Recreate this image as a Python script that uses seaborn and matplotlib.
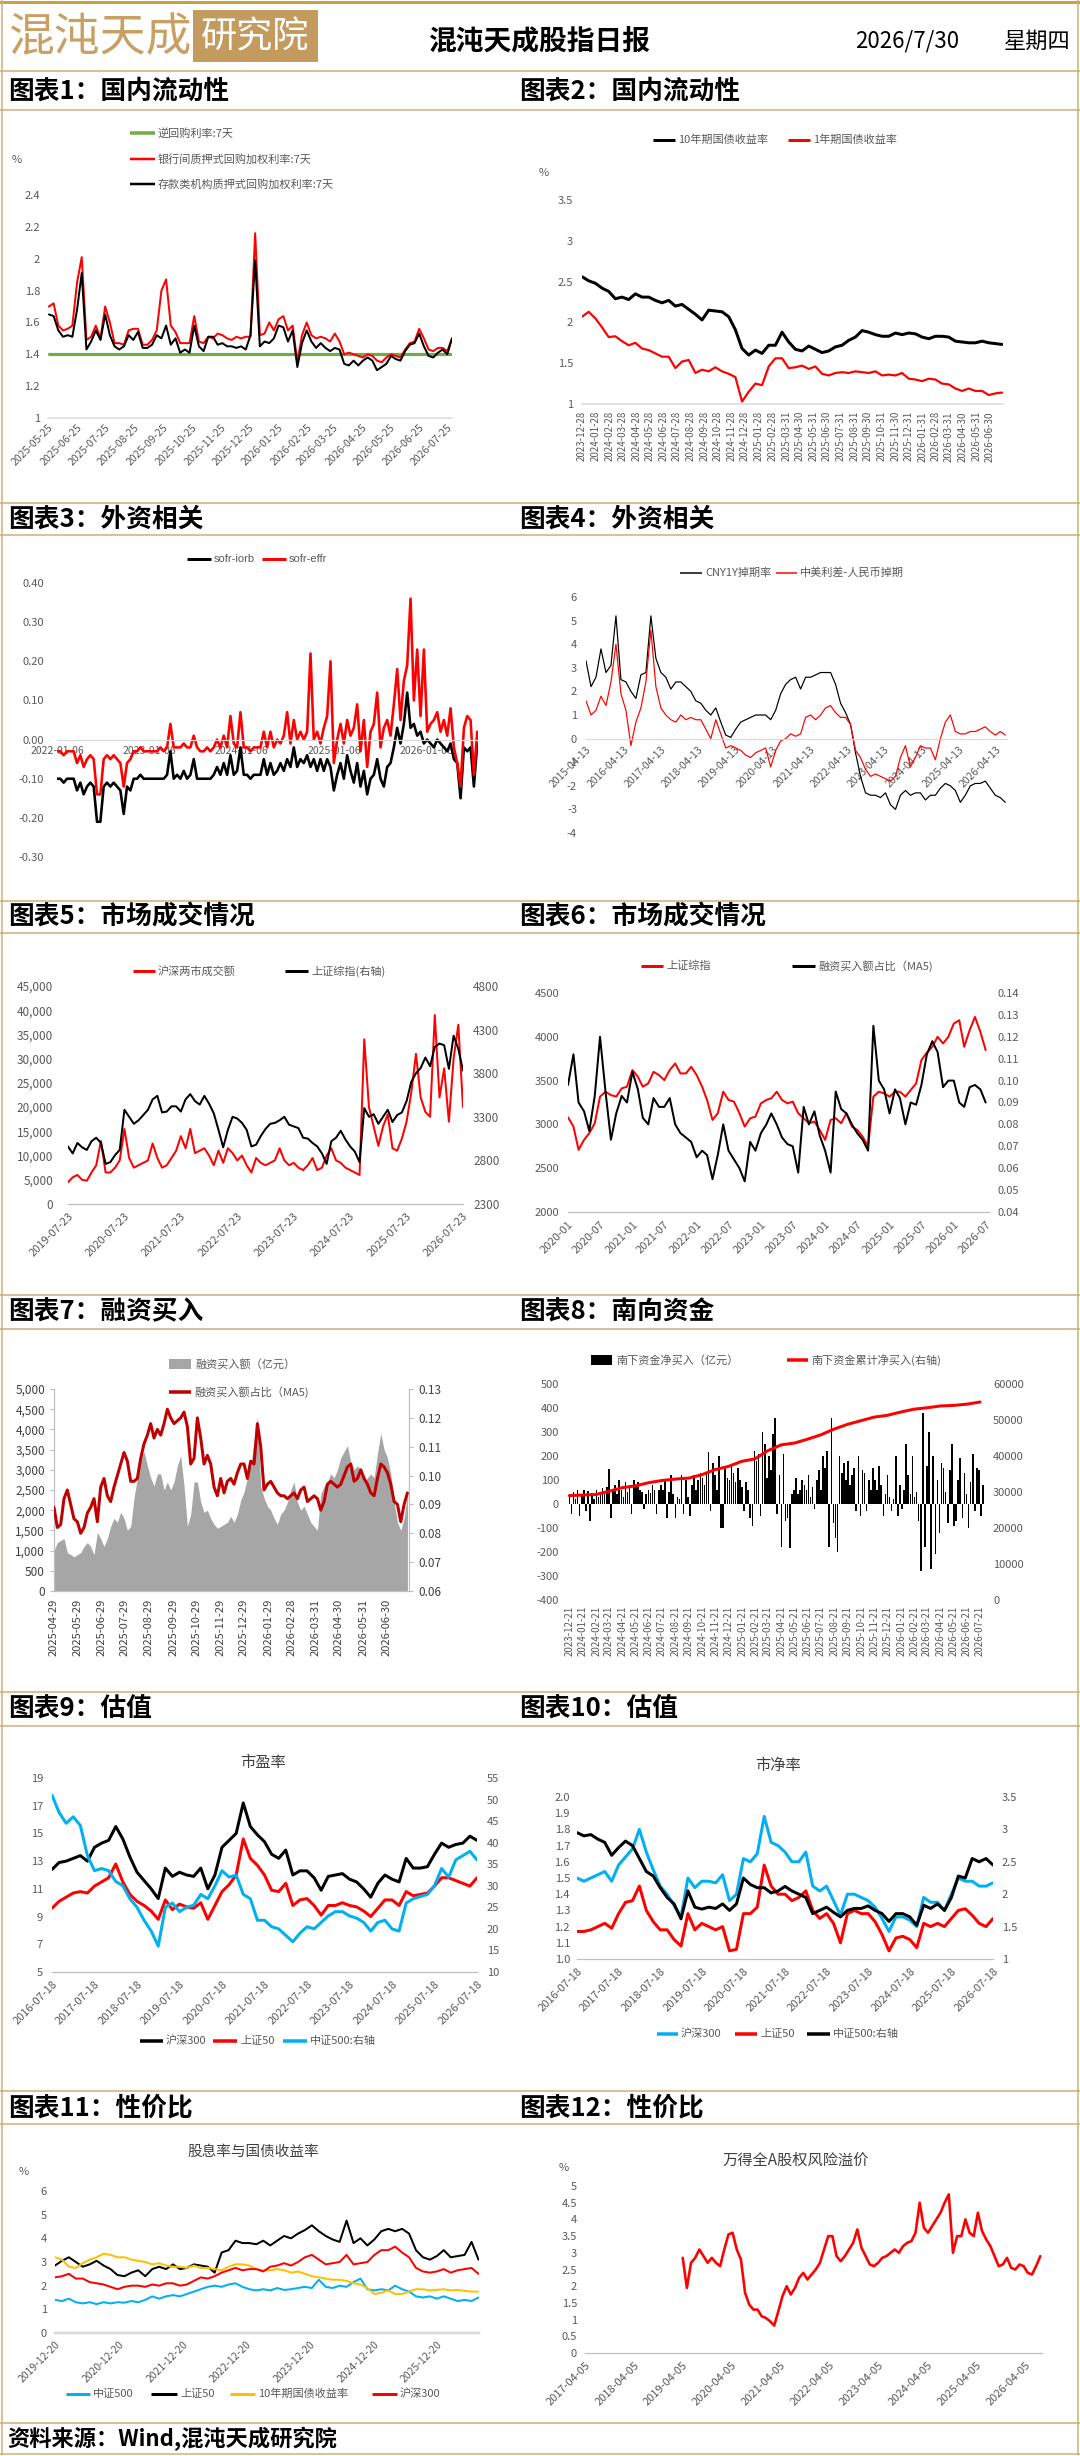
import numpy as np
import pandas as pd
import matplotlib
matplotlib.use('Agg')
import matplotlib.pyplot as plt
import matplotlib.dates as mdates
from matplotlib.patches import Rectangle
import seaborn as sns

# ---------------------------------------------------------------- data
# Chart 1: domestic liquidity (5-day spacing, 2025-05-26 .. 2026-07-30)
C1_REPO_DATES = ['2025-05-26', '2026-07-30']
C1_REPO7D = [1.40, 1.40]
C1_IB7D = [1.70,1.72,1.58,1.55,1.56,1.58,1.85,2.01,1.49,1.51,
           1.58,1.50,1.70,1.60,1.47,1.47,1.46,1.55,1.56,1.56,
           1.46,1.46,1.49,1.55,1.80,1.87,1.58,1.54,1.47,1.47,
           1.47,1.64,1.48,1.47,1.51,1.50,1.53,1.52,1.50,1.49,
           1.51,1.50,1.51,1.51,2.16,1.52,1.53,1.60,1.55,1.62,
           1.64,1.55,1.58,1.35,1.52,1.60,1.52,1.50,1.51,1.50,
           1.48,1.53,1.48,1.40,1.41,1.40,1.39,1.38,1.40,1.39,
           1.36,1.35,1.38,1.40,1.39,1.38,1.43,1.47,1.48,1.56,
           1.50,1.43,1.42,1.44,1.44,1.42,1.50]
C1_DR7D = [1.65,1.64,1.55,1.51,1.52,1.51,1.68,1.91,1.43,1.48,
           1.55,1.49,1.65,1.52,1.45,1.43,1.45,1.52,1.49,1.54,
           1.44,1.44,1.46,1.52,1.50,1.58,1.46,1.50,1.41,1.43,
           1.41,1.58,1.45,1.42,1.51,1.51,1.46,1.47,1.45,1.45,
           1.44,1.45,1.43,1.52,1.99,1.45,1.48,1.47,1.50,1.58,
           1.57,1.48,1.55,1.32,1.47,1.55,1.48,1.44,1.47,1.44,
           1.42,1.44,1.43,1.34,1.33,1.36,1.33,1.36,1.38,1.36,
           1.30,1.32,1.34,1.39,1.37,1.36,1.42,1.46,1.47,1.53,
           1.45,1.39,1.38,1.41,1.43,1.40,1.50]
C1_XTICKS = ['2025-05-25','2025-06-25','2025-07-25','2025-08-25','2025-09-25','2025-10-25',
             '2025-11-25','2025-12-25','2026-01-25','2026-02-25','2026-03-25','2026-04-25',
             '2026-05-25','2026-06-25','2026-07-25']
C1_YTICKS = [1, 1.2, 1.4, 1.6, 1.8, 2, 2.2, 2.4]

# Chart 2: government bond yields
C2_Y10 = [2.56,2.51,2.48,2.42,2.38,2.29,2.31,2.28,2.35,2.31,
          2.31,2.27,2.24,2.27,2.20,2.22,2.16,2.10,2.03,2.15,
          2.14,2.13,2.07,1.91,1.68,1.60,1.66,1.62,1.72,1.72,
          1.88,1.76,1.67,1.65,1.71,1.67,1.63,1.65,1.70,1.72,
          1.78,1.82,1.90,1.88,1.85,1.83,1.83,1.87,1.85,1.87,
          1.86,1.82,1.80,1.83,1.83,1.82,1.77,1.76,1.75,1.75,
          1.77,1.75,1.74,1.73]
C2_Y1 = [2.07,2.13,2.05,1.94,1.82,1.83,1.77,1.72,1.75,1.68,
         1.66,1.62,1.58,1.58,1.44,1.52,1.54,1.38,1.42,1.40,
         1.45,1.40,1.37,1.33,1.03,1.15,1.25,1.23,1.46,1.56,
         1.56,1.44,1.45,1.47,1.43,1.46,1.37,1.35,1.38,1.39,
         1.38,1.40,1.39,1.38,1.40,1.35,1.36,1.35,1.38,1.31,
         1.30,1.28,1.31,1.30,1.25,1.24,1.19,1.16,1.19,1.16,
         1.16,1.11,1.13,1.14]
C2_XTICKS = ['2023-12-28','2024-01-28','2024-02-28','2024-03-28','2024-04-28','2024-05-28',
             '2024-06-28','2024-07-28','2024-08-28','2024-09-28','2024-10-28','2024-11-28',
             '2024-12-28','2025-01-28','2025-02-28','2025-03-31','2025-04-30','2025-05-31',
             '2025-06-30','2025-07-31','2025-08-31','2025-09-30','2025-10-31','2025-11-30',
             '2025-12-31','2026-01-31','2026-02-28','2026-03-31','2026-04-30','2026-05-31',
             '2026-06-30']
C2_YTICKS = [1, 1.5, 2, 2.5, 3, 3.5]

# Chart 3: SOFR spreads
C3_IORB = [-0.10,-0.10,-0.11,-0.10,-0.10,-0.10,-0.13,-0.11,-0.14,-0.12,
           -0.11,-0.12,-0.21,-0.21,-0.12,-0.11,-0.12,-0.11,-0.12,-0.13,
           -0.19,-0.12,-0.13,-0.10,-0.10,-0.09,-0.10,-0.10,-0.10,-0.10,
           -0.10,-0.10,-0.10,-0.09,-0.03,-0.10,-0.09,-0.10,-0.08,-0.10,
           -0.09,-0.05,-0.10,-0.10,-0.10,-0.10,-0.10,-0.09,-0.07,-0.09,
           -0.06,-0.09,-0.04,-0.09,-0.08,-0.02,-0.09,-0.09,-0.10,-0.09,
           -0.09,-0.09,-0.05,-0.09,-0.06,-0.09,-0.08,-0.06,-0.08,-0.05,
           -0.07,-0.02,-0.07,-0.05,-0.06,-0.04,-0.07,-0.05,-0.08,-0.05,
           -0.08,-0.05,-0.07,-0.13,-0.09,-0.06,-0.10,-0.04,-0.08,-0.11,
           -0.06,-0.12,-0.08,-0.14,-0.10,-0.09,-0.05,-0.10,-0.12,-0.07,
           -0.06,-0.02,0.03,-0.01,0.04,0.12,0.03,0.04,0.01,0.02,
           -0.01,0.00,-0.01,-0.02,0.00,-0.01,-0.02,-0.03,-0.01,-0.05,
           -0.06,-0.15,-0.02,-0.03,-0.02,-0.12,-0.01]
C3_EFFR = [-0.03,-0.03,-0.04,-0.03,-0.03,-0.03,-0.06,-0.04,-0.07,-0.05,
           -0.04,-0.05,-0.14,-0.14,-0.05,-0.04,-0.05,-0.04,-0.05,-0.06,
           -0.12,-0.06,-0.05,-0.03,-0.03,-0.02,-0.03,-0.03,-0.03,-0.03,
           -0.03,-0.02,-0.03,-0.02,0.04,-0.02,-0.02,-0.02,-0.01,-0.02,
           -0.02,0.01,-0.02,-0.03,-0.03,-0.02,-0.03,-0.02,0.00,-0.02,
           0.01,-0.02,0.06,-0.01,-0.02,0.07,-0.02,-0.02,-0.03,-0.02,
           -0.02,-0.02,0.02,-0.02,0.02,-0.02,0.00,-0.01,0.01,0.07,
           -0.01,0.05,0.00,0.02,0.00,0.02,0.22,0.00,0.02,-0.01,
           0.03,0.06,0.20,-0.06,0.00,0.04,-0.01,0.05,0.01,0.03,
           0.09,-0.03,0.05,-0.07,0.02,0.04,0.12,-0.02,0.03,0.05,
           0.01,0.09,0.18,0.05,0.15,0.19,0.36,0.10,0.23,0.06,
           0.23,0.02,0.04,0.05,0.07,0.02,0.05,0.01,0.08,-0.02,
           -0.06,-0.12,0.03,0.06,0.05,-0.09,0.02]
C3_XTICKS = ['2022-01-06','2023-01-06','2024-01-06','2025-01-06','2026-01-06']
C3_YTICKS = [-0.3, -0.2, -0.1, 0.0, 0.1, 0.2, 0.3, 0.4]

# Chart 4: CNY swap
C4_SWAP = [3.3,2.2,2.6,3.8,2.8,3.1,5.2,2.5,2.4,2.0,
           1.7,2.7,2.8,5.2,3.4,2.8,2.6,2.1,2.4,2.4,
           2.2,2.0,1.6,1.5,1.2,1.0,1.3,0.7,0.15,0.05,
           0.4,0.7,0.8,0.9,1.0,1.0,1.0,0.8,1.2,1.9,
           2.3,2.5,2.6,2.1,2.6,2.6,2.7,2.8,2.8,2.8,
           2.3,1.5,1.1,0.6,-0.6,-1.6,-2.3,-2.4,-2.4,-2.5,
           -2.3,-2.8,-3.0,-2.4,-2.2,-2.4,-2.3,-2.3,-2.6,-2.4,
           -2.4,-2.1,-1.9,-2.0,-2.2,-2.7,-2.4,-2.0,-1.9,-1.9,
           -1.8,-2.1,-2.4,-2.5,-2.7]
C4_SPREAD = [1.6,1.0,1.2,1.8,1.4,2.4,4.0,1.9,1.2,-0.3,
             0.7,1.3,2.4,4.6,2.2,1.3,1.0,0.8,0.7,1.0,
             0.8,0.9,0.8,0.8,0.4,0.0,0.8,0.2,-0.4,-0.3,
             -0.4,-0.5,-0.7,-0.8,-0.6,-0.5,-0.4,-1.2,-0.5,-0.1,
             0.0,0.2,0.1,0.2,0.9,1.0,0.8,1.0,1.3,1.4,
             1.1,0.9,0.9,0.6,-0.5,-0.8,-1.3,-1.6,-1.5,-1.6,
             -1.7,-1.8,-1.6,-0.8,-0.3,-1.2,-0.8,-0.3,-0.4,-0.4,
             -0.9,0.0,0.7,1.0,0.3,0.2,0.2,0.3,0.3,0.4,
             0.5,0.3,0.15,0.3,0.15]
C4_XTICKS = ['2015-04-13','2016-04-13','2017-04-13','2018-04-13','2019-04-13','2020-04-13',
             '2021-04-13','2022-04-13','2023-04-13','2024-04-13','2025-04-13','2026-04-13']
C4_YTICKS = [-4, -3, -2, -1, 0, 1, 2, 3, 4, 5, 6]

# Chart 5: turnover and SSE composite
C5_TURNOVER = [4500,5500,6000,5000,4800,6500,8000,13000,6500,6500,
               7500,9000,15500,9500,7500,8000,8500,9000,12500,9500,
               7500,8000,9500,11000,14000,11500,15500,10500,11000,11500,
               10000,8000,11000,8500,11500,10500,9000,10000,8000,6500,
               9500,8500,8000,8500,9000,11500,9000,8000,8500,7500,
               7000,8000,9500,7000,7500,10000,11500,9000,8500,7500,
               7000,6500,6000,34000,20000,16000,12000,16000,18500,11500,
               11000,13500,17000,23000,31000,22000,19000,18000,39000,22000,
               28000,17000,30000,37000,20000]
C5_SSE = [2960,2880,3000,2950,2920,3020,3060,3000,2760,2780,
          2860,2920,3380,3300,3220,3260,3320,3380,3500,3540,
          3350,3360,3420,3420,3360,3500,3560,3480,3440,3540,
          3450,3340,3150,2950,3150,3300,3280,3230,3150,2960,
          2980,3080,3160,3220,3230,3260,3300,3210,3190,3170,
          3060,3050,3000,2960,2880,2760,3020,3060,3140,3040,
          2960,2900,2780,3400,3300,3330,3220,3300,3380,3240,
          3320,3350,3480,3700,3800,3860,3980,3880,4100,4140,
          4120,3850,4230,4080,3830]
C5_XTICKS = ['2019-07-23','2020-07-23','2021-07-23','2022-07-23','2023-07-23',
             '2024-07-23','2025-07-23','2026-07-23']
C5_YTICKS_L = [0,5000,10000,15000,20000,25000,30000,35000,40000,45000]
C5_YTICKS_R = [2300,2800,3300,3800,4300,4800]

# Chart 6: SSE composite and margin-buy share (monthly)
C6_SSE = [3080,2975,2710,2823,2900,3013,3317,3373,3335,3317,3411,3430,
          3620,3544,3430,3468,3600,3563,3506,3620,3696,3582,3582,3658,
          3563,3430,3279,3051,3127,3373,3279,3260,3127,2975,3070,3089,
          3240,3279,3298,3373,3279,3240,3260,3127,3070,3013,3032,2937,
          2823,3051,3070,3013,3127,2975,2937,2861,2747,3317,3373,3354,
          3317,3373,3373,3317,3392,3468,3734,3820,3886,4000,3924,4000,
          4151,4189,3886,4075,4227,4056,3848]
C6_MARGIN = [0.098,0.112,0.090,0.086,0.077,0.093,0.120,0.095,0.073,0.085,0.093,0.090,
             0.104,0.096,0.083,0.080,0.092,0.088,0.088,0.092,0.080,0.076,0.074,0.072,
             0.065,0.068,0.066,0.055,0.066,0.080,0.068,0.064,0.060,0.054,0.072,0.068,
             0.076,0.080,0.085,0.080,0.074,0.071,0.070,0.058,0.088,0.080,0.086,0.075,
             0.068,0.058,0.095,0.087,0.085,0.080,0.076,0.073,0.068,0.125,0.100,0.096,
             0.085,0.096,0.092,0.080,0.090,0.089,0.098,0.112,0.118,0.113,0.097,0.100,
             0.100,0.090,0.088,0.097,0.098,0.096,0.090]
C6_XTICKS = ['2020-01','2020-07','2021-01','2021-07','2022-01','2022-07','2023-01',
             '2023-07','2024-01','2024-07','2025-01','2025-07','2026-01','2026-07']
C6_YTICKS_L = [2000,2500,3000,3500,4000,4500]
C6_YTICKS_R = [0.04,0.05,0.06,0.07,0.08,0.09,0.10,0.11,0.12,0.13,0.14]

# Chart 7: margin buying
C7_AMOUNT = [1000,1200,1250,1300,950,900,850,900,950,1100,
             1200,1100,900,1450,1300,1100,1300,1600,1800,1700,
             1950,1800,1500,1600,2300,2800,3300,3450,3100,2800,
             2600,2900,2900,2500,2700,2500,2700,3100,3350,2600,
             1600,1900,2700,2700,2200,1950,2000,1800,1650,1550,
             1600,1650,1700,1850,1700,1900,2250,2450,2800,3100,
             3700,4300,2600,2300,2100,2000,1800,1650,1900,2000,
             2200,2500,2700,2200,2000,2100,1900,1700,1600,1500,
             2400,2600,2700,2900,2800,3000,3300,3450,3600,3200,
             3000,3100,3000,2700,2800,2900,2800,3400,3900,3500,
             3300,2900,2200,1700,1500,1800,2400]
C7_SHARE = [0.089,0.082,0.083,0.092,0.095,0.090,0.085,0.084,0.080,0.082,
            0.087,0.089,0.092,0.084,0.096,0.099,0.093,0.091,0.096,0.100,
            0.104,0.108,0.105,0.098,0.098,0.099,0.106,0.111,0.114,0.118,
            0.113,0.116,0.114,0.118,0.123,0.120,0.118,0.119,0.120,0.122,
            0.117,0.104,0.106,0.120,0.113,0.104,0.107,0.104,0.096,0.093,
            0.099,0.094,0.098,0.099,0.097,0.101,0.104,0.104,0.099,0.105,
            0.104,0.118,0.110,0.095,0.097,0.098,0.096,0.094,0.093,0.093,
            0.092,0.093,0.094,0.092,0.095,0.096,0.091,0.092,0.093,0.092,
            0.088,0.091,0.097,0.098,0.097,0.096,0.097,0.100,0.103,0.104,
            0.098,0.099,0.102,0.099,0.097,0.094,0.093,0.099,0.104,0.103,
            0.101,0.097,0.091,0.090,0.084,0.090,0.094]
C7_XTICKS = ['2025-04-29','2025-05-29','2025-06-29','2025-07-29','2025-08-29','2025-09-29',
             '2025-10-29','2025-11-29','2025-12-29','2026-01-29','2026-02-28','2026-03-31',
             '2026-04-30','2026-05-31','2026-06-30']
C7_YTICKS_L = [0,500,1000,1500,2000,2500,3000,3500,4000,4500,5000]
C7_YTICKS_R = [0.06,0.07,0.08,0.09,0.10,0.11,0.12,0.13]

# Chart 8: southbound flows
C8_NET = [30,-40,50,20,60,-50,40,60,-30,55,
          -70,45,20,60,30,50,65,40,70,145,
          -60,60,80,40,100,60,30,90,50,80,
          -40,100,70,90,60,50,-20,40,60,45,
          80,60,-40,60,80,60,100,-60,50,120,
          40,-60,30,20,120,-40,100,30,-50,80,
          120,60,100,130,110,80,130,215,-30,170,
          120,60,200,-100,-100,150,110,100,160,130,
          90,150,100,70,-30,90,60,-60,-90,220,
          180,210,-50,300,250,110,200,140,290,360,
          -40,120,-180,210,-70,-60,-185,40,60,110,
          40,60,100,80,60,120,30,70,-20,100,
          140,60,200,150,220,-180,360,-80,-140,-200,
          200,130,170,100,180,80,120,150,-30,200,
          -50,140,130,-30,100,60,150,100,60,160,
          80,-50,40,120,30,-30,20,200,-50,80,
          -20,60,250,120,40,200,30,50,-70,-280,
          380,-180,160,300,-270,200,-210,100,-120,170,
          150,50,-80,140,250,-90,-70,100,190,-60,
          130,40,-100,90,210,-30,150,140,-50,80]
C8_CUM = [29000,29150,29300,30200,31200,31700,32600,33200,33600,33850,
          34800,36200,37100,38500,39200,41500,43100,43600,44700,45900,
          47500,48800,49800,50800,51300,52200,53000,53400,53900,54050,
          54400,55000]
C8_XTICKS = ['2023-12-21','2024-01-21','2024-02-21','2024-03-21','2024-04-21','2024-05-21',
             '2024-06-21','2024-07-21','2024-08-21','2024-09-21','2024-10-21','2024-11-21',
             '2024-12-21','2025-01-21','2025-02-21','2025-03-21','2025-04-21','2025-05-21',
             '2025-06-21','2025-07-21','2025-08-21','2025-09-21','2025-10-21','2025-11-21',
             '2025-12-21','2026-01-21','2026-02-21','2026-03-21','2026-04-21','2026-05-21',
             '2026-06-21','2026-07-21']
C8_YTICKS_L = [-400,-300,-200,-100,0,100,200,300,400,500]
C8_YTICKS_R = [0,10000,20000,30000,40000,50000,60000]

# Chart 9: PE (bi-monthly)
C9_HS300 = [12.4,12.9,13.0,13.2,13.4,13.0,14.0,14.3,14.5,15.5,
            14.6,13.3,12.2,11.6,11.0,10.3,12.5,11.9,12.2,12.0,
            11.9,12.5,11.0,12.0,14.0,14.5,15.0,17.2,15.5,14.9,
            14.4,13.5,13.2,13.8,12.0,12.3,12.3,11.8,10.9,11.9,
            12.0,12.1,11.7,11.5,11.0,10.4,11.4,12.0,11.7,11.5,
            13.2,12.5,12.5,12.6,13.5,14.3,14.0,14.2,14.3,14.8,
            14.5]
C9_SZ50 = [9.6,10.1,10.4,10.7,10.8,10.7,11.2,11.5,11.8,12.8,
           11.5,10.6,10.1,9.8,9.4,8.8,10.2,9.5,9.9,9.7,
           9.6,10.0,8.8,9.8,10.8,11.3,12.0,14.6,13.2,12.7,
           12.0,10.9,10.8,11.4,9.8,10.2,10.3,9.8,9.1,9.8,
           9.8,10.0,9.8,9.7,9.4,9.0,9.6,10.2,10.2,9.8,
           10.8,10.5,10.6,10.7,11.2,11.8,11.8,11.6,11.4,11.2,
           11.8]
C9_ZZ500 = [51,47,44.5,46,44,37,33.5,34,33.5,31,
            30,27,25,22,19.5,16,25,26,24,25,
            25.5,28,27,30,33.5,32,32.5,28,27,22,
            22,20.5,20,18.5,17,19,20.5,20,21.5,23,
            24,24,23,22.5,21.5,19.5,21.5,22,20,19.5,
            26,27,27.5,28,30,34,32,36,37,38,
            36]
VAL_XTICKS = ['2016-07-18','2017-07-18','2018-07-18','2019-07-18','2020-07-18','2021-07-18',
              '2022-07-18','2023-07-18','2024-07-18','2025-07-18','2026-07-18']
C9_YTICKS_L = [5,7,9,11,13,15,17,19]
C9_YTICKS_R = [10,15,20,25,30,35,40,45,50,55]

# Chart 10: PB (bi-monthly)
C10_HS300 = [1.50,1.48,1.50,1.52,1.54,1.48,1.58,1.63,1.68,1.80,
             1.66,1.55,1.45,1.40,1.33,1.26,1.50,1.44,1.48,1.48,
             1.47,1.52,1.36,1.40,1.62,1.60,1.65,1.88,1.72,1.70,
             1.66,1.60,1.60,1.66,1.45,1.42,1.45,1.36,1.27,1.40,
             1.40,1.38,1.36,1.32,1.25,1.17,1.26,1.26,1.24,1.20,
             1.38,1.35,1.35,1.30,1.40,1.50,1.48,1.48,1.45,1.45,
             1.47]
C10_SZ50 = [1.17,1.17,1.18,1.20,1.22,1.19,1.28,1.35,1.36,1.45,
            1.30,1.23,1.18,1.18,1.12,1.08,1.28,1.18,1.22,1.20,
            1.18,1.20,1.05,1.06,1.28,1.28,1.32,1.58,1.45,1.40,
            1.40,1.36,1.38,1.42,1.30,1.25,1.28,1.22,1.10,1.28,
            1.30,1.28,1.28,1.23,1.15,1.05,1.13,1.14,1.12,1.07,
            1.22,1.20,1.22,1.20,1.25,1.30,1.31,1.27,1.22,1.20,
            1.25]
C10_ZZ500 = [2.95,2.90,2.92,2.85,2.80,2.60,2.72,2.82,2.75,2.55,
             2.35,2.28,2.10,1.95,1.85,1.62,2.05,1.80,1.77,1.80,
             1.78,1.85,1.75,1.85,2.25,2.15,2.10,2.10,2.02,2.05,
             2.12,2.05,2.00,1.95,1.70,1.75,1.80,1.72,1.65,1.75,
             1.78,1.78,1.82,1.75,1.70,1.58,1.70,1.70,1.65,1.52,
             1.83,1.78,1.85,1.75,1.95,2.28,2.25,2.55,2.50,2.55,
             2.45]
C10_YTICKS_L = [1.0,1.1,1.2,1.3,1.4,1.5,1.6,1.7,1.8,1.9,2.0]
C10_YTICKS_R = [1,1.5,2,2.5,3,3.5]

# Chart 11: dividend yields vs 10Y
C11_ZZ500 = [1.40,1.35,1.45,1.30,1.25,1.30,1.22,1.30,1.25,1.30,
             1.28,1.35,1.30,1.40,1.55,1.45,1.55,1.60,1.55,1.65,
             1.75,1.85,1.95,2.00,1.95,2.05,2.10,1.95,1.85,1.80,
             1.85,1.80,1.90,1.82,1.85,1.90,1.95,1.90,2.25,1.95,
             1.90,2.00,1.95,2.15,2.30,1.85,1.80,1.85,1.80,2.00,
             1.85,1.75,1.55,1.50,1.55,1.45,1.55,1.45,1.35,1.40,
             1.35,1.50]
C11_SZ50 = [2.85,3.05,3.20,3.00,2.80,2.90,3.05,2.85,2.70,2.45,
            2.40,2.55,2.65,2.40,2.70,2.80,2.70,2.90,2.70,2.75,
            2.90,2.85,2.80,2.55,3.40,3.50,3.90,3.80,3.80,3.75,
            3.90,3.70,3.90,4.10,4.00,4.20,4.35,4.55,4.30,4.10,
            3.95,3.85,4.75,3.80,4.00,3.70,3.95,4.30,4.40,4.30,
            4.40,4.20,3.50,3.20,3.10,3.25,3.50,3.20,3.25,3.30,
            3.85,3.10]
C11_Y10 = [3.20,3.10,2.80,2.75,2.95,3.10,3.20,3.35,3.30,3.20,
           3.20,3.10,3.05,3.00,2.90,2.95,2.85,2.80,2.80,2.75,
           2.85,2.75,2.75,2.70,2.65,2.80,2.90,2.90,2.85,2.70,
           2.65,2.65,2.70,2.65,2.55,2.60,2.50,2.40,2.35,2.30,
           2.25,2.25,2.20,2.10,2.05,1.90,1.65,1.70,1.80,1.65,
           1.65,1.75,1.85,1.85,1.80,1.82,1.85,1.80,1.82,1.78,
           1.75,1.75]
C11_HS300 = [2.35,2.40,2.50,2.30,2.30,2.15,2.10,2.05,1.95,1.85,
             1.95,2.00,2.00,1.95,2.05,2.00,2.10,2.10,2.00,2.05,
             2.20,2.35,2.30,2.40,2.55,2.65,2.75,2.65,2.70,2.70,
             2.60,2.80,2.85,2.95,2.85,3.00,3.20,3.30,3.10,2.90,
             2.95,3.00,3.30,2.90,2.95,3.00,3.30,3.50,3.50,3.65,
             3.40,3.20,2.75,2.60,2.55,2.60,2.70,2.55,2.65,2.70,
             2.75,2.50]
C11_XTICKS = ['2019-12-20','2020-12-20','2021-12-20','2022-12-20','2023-12-20',
              '2024-12-20','2025-12-20']
C11_YTICKS = [0,1,2,3,4,5,6]

# Chart 12: Wind All-A equity risk premium
C12_ERP = [2.85,1.95,2.7,2.85,3.1,2.9,2.7,2.85,2.7,2.6,
           3.1,3.55,3.6,3.1,2.8,1.8,1.45,1.3,1.3,1.1,
           1.05,0.95,0.82,1.25,1.7,2.0,1.75,1.95,2.25,2.4,
           2.2,2.35,2.5,2.7,3.1,3.5,3.5,2.9,2.75,2.9,
           3.1,3.3,3.7,3.15,2.9,2.65,2.6,2.7,2.85,2.9,
           3.0,3.1,3.0,3.2,3.3,3.35,3.6,4.5,3.75,3.6,
           3.8,4.0,4.2,4.5,4.75,3.0,3.5,3.5,4.0,3.6,
           3.5,4.2,3.65,3.4,3.2,2.9,2.6,2.65,2.85,2.55,
           2.5,2.65,2.6,2.4,2.35,2.6,2.9]
C12_XTICKS = ['2017-04-05','2018-04-05','2019-04-05','2020-04-05','2021-04-05','2022-04-05',
              '2023-04-05','2024-04-05','2025-04-05','2026-04-05']
C12_YTICKS = [0,0.5,1,1.5,2,2.5,3,3.5,4,4.5,5]

SECTION_TITLES = ['图表1：国内流动性','图表2：国内流动性','图表3：外资相关','图表4：外资相关',
                  '图表5：市场成交情况','图表6：市场成交情况','图表7：融资买入','图表8：南向资金',
                  '图表9：估值','图表10：估值','图表11：性价比','图表12：性价比']

# ---------------------------------------------------------------- style
sns.set_theme(style='white')
plt.rcParams['font.family'] = ['Noto Sans CJK SC', 'DejaVu Sans']
plt.rcParams['axes.unicode_minus'] = False

W, H = 1080, 2456
PT = 0.72
GOLD = '#C8A064'
LINE_C = '#CDAE78'
GRAY = '#595959'
DGRAY = '#404040'
RED = '#FF0000'
BLACK = '#000000'
GREEN = '#70AD47'
BLUE = '#00B0F0'
ORANGE = '#FFC000'
DRED = '#C00000'
AREA = '#A6A6A6'
AXC = '#D9D9D9'

fig = plt.figure(figsize=(W / 100, H / 100), dpi=100)
fig.patch.set_facecolor('white')
bg = fig.add_axes([0, 0, 1, 1])
bg.set_xlim(0, W)
bg.set_ylim(H, 0)
bg.axis('off')


def box(x0, y0, x1, y1):
    return [x0 / W, 1 - y1 / H, (x1 - x0) / W, (y1 - y0) / H]


def new_ax(x0, y0, x1, y1):
    ax = fig.add_axes(box(x0, y0, x1, y1))
    ax.set_facecolor('none')
    for s in ax.spines.values():
        s.set_visible(False)
    ax.grid(False)
    return ax


def twin(ax):
    t = ax.twinx()
    t.set_facecolor('none')
    for s in t.spines.values():
        s.set_visible(False)
    t.grid(False)
    return t


def draw(ax, dates, vals, color, lw_px):
    sns.lineplot(x=dates, y=vals, ax=ax, color=color, linewidth=lw_px * PT,
                 estimator=None, errorbar=None)
    ax.set_xlabel('')
    ax.set_ylabel('')


def yaxis(ax, ticks, labels, pad_px, fs=8, color=GRAY, length=0, lim=None):
    if lim is not None:
        ax.set_ylim(*lim)
    ax.set_yticks(ticks)
    ax.set_yticklabels(labels)
    ax.tick_params(axis='y', length=length * PT, pad=pad_px * PT, labelsize=fs,
                   labelcolor=color, color='#BFBFBF', width=0.8)


def xaxis(ax, labels, rot, fs, pad_px, xmin, xmax, length=0, color=GRAY):
    ax.set_xlim(mdates.date2num(pd.Timestamp(xmin)), mdates.date2num(pd.Timestamp(xmax)))
    ax.set_xticks(mdates.date2num(pd.to_datetime(labels)))
    ax.set_xticklabels(labels)
    ax.tick_params(axis='x', length=length * PT, pad=pad_px * PT, labelsize=fs,
                   labelcolor=color, color='#BFBFBF', width=0.8)
    for lab in ax.get_xticklabels():
        if rot == 45:
            lab.set_rotation(45)
            lab.set_ha('right')
            lab.set_rotation_mode('anchor')
        elif rot == 90:
            lab.set_rotation(90)
            lab.set_ha('center')
            lab.set_va('top')
        else:
            lab.set_ha('center')


def spine(ax, which, color=AXC, lw_px=1.0, zero=False):
    s = ax.spines[which]
    s.set_visible(True)
    s.set_color(color)
    s.set_linewidth(lw_px * PT)
    if zero:
        s.set_position(('data', 0))


def leg_line(x0, x1, y, color, lw_px, label, fs=8, tc=GRAY, family=None):
    bg.plot([x0, x1], [y, y], color=color, lw=lw_px * PT, solid_capstyle='butt')
    kw = {} if family is None else {'family': family}
    bg.text(x1 + 3, y, label, fontsize=fs, color=tc, va='center', ha='left', **kw)


def leg_patch(x0, x1, y, color, label, fs=8, tc=GRAY):
    bg.add_patch(Rectangle((x0, y - 5), x1 - x0, 10, color=color, lw=0))
    bg.text(x1 + 4, y, label, fontsize=fs, color=tc, va='center', ha='left')


fmt_g = lambda v: f'{v:g}'

# ---------------------------------------------------------------- frame / header
bg.plot([0, W], [1.5, 1.5], color='#C9A13E', lw=3 * PT)
for y in [71, 110, 503, 535, 901, 933, 1295, 1329, 1692, 1726, 2091, 2124, 2423, 2454]:
    bg.plot([0, W], [y, y], color=LINE_C, lw=1.5 * PT)
bg.plot([2, 2], [0, 2455], color=LINE_C, lw=1.5 * PT)
bg.plot([1078, 1078], [0, 2455], color=LINE_C, lw=1.5 * PT)

bg.text(8, 38, '混沌天成', fontsize=33, color=GOLD, fontweight='light', va='center', ha='left')
bg.add_patch(Rectangle((193, 10), 125, 52, color='#C49B5E', lw=0))
bg.text(255.5, 37, '研究院', fontsize=26, color='white', fontweight='light', va='center', ha='center')
bg.text(540, 41, '混沌天成股指日报', fontsize=20, fontweight='bold', color='black', va='center', ha='center')
bg.text(855, 41, '2026/7/30', fontsize=16, color='black', va='center', ha='left')
bg.text(1004, 41, '星期四', fontsize=16, color='black', va='center', ha='left')

title_rows = [91, 519, 917, 1312, 1709, 2108]
for i, t in enumerate(SECTION_TITLES):
    x = 8 if i % 2 == 0 else 519
    bg.text(x, title_rows[i // 2], t, fontsize=18.5, fontweight='bold', color='black',
            va='center', ha='left')

bg.text(7, 2439, '资料来源：Wind,混沌天成研究院', fontsize=16, fontweight='bold', color='black',
        va='center', ha='left')

# ---------------------------------------------------------------- chart 1
ax = new_ax(48, 195, 452, 418)
d = pd.date_range('2025-05-26', '2026-07-30', periods=len(C1_IB7D))
draw(ax, pd.to_datetime(C1_REPO_DATES), C1_REPO7D, GREEN, 3.2)
draw(ax, d, C1_IB7D, RED, 2.0)
draw(ax, d, C1_DR7D, BLACK, 2.0)
spine(ax, 'bottom', AXC, 1.5)
yaxis(ax, C1_YTICKS, [fmt_g(v) for v in C1_YTICKS], 8, lim=(1, 2.4))
xaxis(ax, C1_XTICKS, 45, 7.5, 4, '2025-05-25', '2026-07-30')
bg.text(17, 160, '%', fontsize=8, color=GRAY, va='center', ha='center')
leg_line(130, 155, 133, GREEN, 3.5, '逆回购利率:7天')
leg_line(130, 155, 159, RED, 2.5, '银行间质押式回购加权利率:7天')
leg_line(130, 155, 184, BLACK, 2.5, '存款类机构质押式回购加权利率:7天')

# ---------------------------------------------------------------- chart 2
ax = new_ax(582, 200, 1003, 404)
d = pd.date_range('2023-12-28', '2026-07-28', periods=len(C2_Y10))
draw(ax, d, C2_Y10, BLACK, 3.0)
draw(ax, d, C2_Y1, RED, 2.2)
spine(ax, 'bottom', AXC, 1.5)
yaxis(ax, C2_YTICKS, [fmt_g(v) for v in C2_YTICKS], 9, lim=(1, 3.5))
xaxis(ax, C2_XTICKS, 90, 7, 7, '2023-12-28', '2026-07-30')
bg.text(544, 173, '%', fontsize=8, color=GRAY, va='center', ha='center')
leg_line(653, 675, 140, BLACK, 3.0, '10年期国债收益率')
leg_line(788, 810, 140, RED, 3.0, '1年期国债收益率')

# ---------------------------------------------------------------- chart 3
ax = new_ax(57, 583, 478, 857)
d = pd.date_range('2022-01-06', '2026-07-25', periods=len(C3_IORB))
draw(ax, d, C3_IORB, BLACK, 2.6)
draw(ax, d, C3_EFFR, RED, 2.6)
ax.set_ylim(-0.3, 0.4)
spine(ax, 'bottom', AXC, 1.2, zero=True)
yaxis(ax, C3_YTICKS, [f'{v:.2f}' for v in C3_YTICKS], 13, lim=(-0.3, 0.4))
xaxis(ax, C3_XTICKS, 0, 7.5, 3, '2022-01-06', '2026-07-28', length=3)
leg_line(187, 211, 559, BLACK, 3.0, 'sofr-iorb', family='Liberation Sans')
leg_line(262, 286, 559, RED, 3.0, 'sofr-effr', family='Liberation Sans')

# ---------------------------------------------------------------- chart 4
ax = new_ax(586, 597, 1007, 833)
d = pd.date_range('2015-04-13', '2026-07-13', periods=len(C4_SWAP))
draw(ax, d, C4_SWAP, BLACK, 1.2)
draw(ax, d, C4_SPREAD, RED, 1.2)
ax.set_ylim(-4, 6)
spine(ax, 'bottom', AXC, 1.2, zero=True)
yaxis(ax, C4_YTICKS, [fmt_g(v) for v in C4_YTICKS], 9, lim=(-4, 6))
xaxis(ax, C4_XTICKS, 45, 7.5, 3, '2015-04-13', '2026-07-30', length=3)
leg_line(680, 702, 573, BLACK, 1.5, 'CNY1Y掉期率')
leg_line(776, 797, 573, RED, 1.5, '中美利差-人民币掉期')

# ---------------------------------------------------------------- chart 5
ax = new_ax(68, 986, 463, 1204)
d = pd.date_range('2019-07-23', '2026-07-28', periods=len(C5_TURNOVER))
draw(ax, d, C5_TURNOVER, RED, 2.0)
ax2 = twin(ax)
draw(ax2, d, C5_SSE, BLACK, 2.0)
spine(ax, 'bottom', '#BFBFBF', 1.2)
yaxis(ax, C5_YTICKS_L, [f'{v:,}' for v in C5_YTICKS_L], 15, fs=8.5, lim=(0, 45000))
yaxis(ax2, C5_YTICKS_R, [str(v) for v in C5_YTICKS_R], 10, fs=8.5, lim=(2300, 4800))
xaxis(ax, C5_XTICKS, 45, 8, 4, '2019-07-23', '2026-07-28', length=3)
leg_line(133, 155, 971, RED, 3.0, '沪深两市成交额')
leg_line(285, 308, 971, BLACK, 3.0, '上证综指(右轴)')

# ---------------------------------------------------------------- chart 6
ax = new_ax(568, 993, 989, 1212)
d = pd.date_range('2020-01-01', periods=len(C6_SSE), freq='MS')
draw(ax, d, C6_SSE, RED, 2.0)
ax2 = twin(ax)
draw(ax2, d, C6_MARGIN, BLACK, 2.0)
spine(ax, 'bottom', '#BFBFBF', 1.2)
yaxis(ax, C6_YTICKS_L, [str(v) for v in C6_YTICKS_L], 9, lim=(2000, 4500))
yaxis(ax2, C6_YTICKS_R, [f'{v:.2f}' for v in C6_YTICKS_R], 8, lim=(0.04, 0.14))
xaxis(ax, C6_XTICKS, 45, 8, 4, '2020-01-01', '2026-07-20', length=3)
leg_line(641, 663, 966, RED, 3.0, '上证综指')
leg_line(792, 815, 966, BLACK, 3.0, '融资买入额占比（MA5)')

# ---------------------------------------------------------------- chart 7
ax = new_ax(54, 1389, 409, 1591)
d = pd.date_range('2025-04-29', '2026-07-27', periods=len(C7_AMOUNT))
ax.fill_between(d, 0, C7_AMOUNT, color=AREA, lw=0)
ax2 = twin(ax)
draw(ax2, d, C7_SHARE, DRED, 3.0)
for w in ['left', 'bottom']:
    spine(ax, w, '#BFBFBF', 1.2)
spine(ax2, 'right', '#BFBFBF', 1.2)
yaxis(ax, C7_YTICKS_L, [f'{v:,}' for v in C7_YTICKS_L], 5, fs=8.5, color=DGRAY, length=4,
      lim=(0, 5000))
yaxis(ax2, C7_YTICKS_R, [f'{v:.2f}' for v in C7_YTICKS_R], 5, fs=8.5, color=DGRAY, length=4,
      lim=(0.06, 0.13))
xaxis(ax, C7_XTICKS, 90, 8, 4, '2025-04-29', '2026-07-29', length=4, color=DGRAY)
leg_patch(169, 191, 1364, AREA, '融资买入额（亿元）')
leg_line(169, 191, 1392, DRED, 3.5, '融资买入额占比（MA5)')

# ---------------------------------------------------------------- chart 8
ax = new_ax(568, 1384, 984, 1600)
d = pd.date_range('2023-12-21', '2026-07-28', periods=len(C8_NET))
ax.bar(d, C8_NET, width=3.6, color=BLACK, lw=0)
ax2 = twin(ax)
dc = pd.date_range('2023-12-21', '2026-07-21', periods=len(C8_CUM))
draw(ax2, dc, C8_CUM, RED, 3.0)
yaxis(ax, C8_YTICKS_L, [str(v) for v in C8_YTICKS_L], 9, lim=(-400, 500))
yaxis(ax2, C8_YTICKS_R, [str(v) for v in C8_YTICKS_R], 9, lim=(0, 60000))
xaxis(ax, C8_XTICKS, 90, 7, 6, '2023-12-18', '2026-07-30')
leg_patch(591, 612, 1360, BLACK, '南下资金净买入（亿元）')
leg_line(787, 808, 1360, RED, 3.5, '南下资金累计净买入(右轴)')

# ---------------------------------------------------------------- chart 9
ax = new_ax(52, 1778, 477, 1972)
d = pd.date_range('2016-07-18', '2026-07-18', periods=len(C9_HS300))
draw(ax, d, C9_HS300, BLACK, 3.0)
draw(ax, d, C9_SZ50, RED, 3.0)
ax2 = twin(ax)
draw(ax2, d, C9_ZZ500, BLUE, 3.0)
spine(ax, 'bottom', '#BFBFBF', 1.2)
yaxis(ax, C9_YTICKS_L, [str(v) for v in C9_YTICKS_L], 9, lim=(5, 19))
yaxis(ax2, C9_YTICKS_R, [str(v) for v in C9_YTICKS_R], 10, lim=(10, 55))
xaxis(ax, VAL_XTICKS, 45, 8, 4, '2016-07-18', '2026-07-18', length=3)
bg.text(263, 1762, '市盈率', fontsize=11, color=DGRAY, va='center', ha='center')
leg_line(140, 163, 2041, BLACK, 3.5, '沪深300')
leg_line(213, 237, 2041, RED, 3.5, '上证50')
leg_line(283, 307, 2041, BLUE, 3.5, '中证500:右轴')

# ---------------------------------------------------------------- chart 10
ax = new_ax(577, 1797, 993, 1959)
d = pd.date_range('2016-07-18', '2026-07-18', periods=len(C10_HS300))
draw(ax, d, C10_HS300, BLUE, 3.0)
draw(ax, d, C10_SZ50, RED, 3.0)
ax2 = twin(ax)
draw(ax2, d, C10_ZZ500, BLACK, 3.0)
spine(ax, 'bottom', '#BFBFBF', 1.2)
yaxis(ax, C10_YTICKS_L, [f'{v:.1f}' for v in C10_YTICKS_L], 7, lim=(1, 2))
yaxis(ax2, C10_YTICKS_R, [fmt_g(v) for v in C10_YTICKS_R], 9, lim=(1, 3.5))
xaxis(ax, VAL_XTICKS, 45, 8, 4, '2016-07-18', '2026-07-18', length=3)
bg.text(778, 1765, '市净率', fontsize=11, color=DGRAY, va='center', ha='center')
leg_line(657, 678, 2034, BLUE, 3.5, '沪深300')
leg_line(735, 757, 2034, RED, 3.5, '上证50')
leg_line(807, 830, 2034, BLACK, 3.5, '中证500:右轴')

# ---------------------------------------------------------------- chart 11
ax = new_ax(55, 2191, 479, 2333)
d = pd.date_range('2019-12-20', '2026-08-14', periods=len(C11_ZZ500))
draw(ax, d, C11_ZZ500, BLUE, 2.0)
draw(ax, d, C11_SZ50, BLACK, 2.0)
draw(ax, d, C11_Y10, ORANGE, 2.0)
draw(ax, d, C11_HS300, RED, 2.0)
spine(ax, 'bottom', AXC, 2.5)
yaxis(ax, C11_YTICKS, [str(v) for v in C11_YTICKS], 8, lim=(0, 6))
xaxis(ax, C11_XTICKS, 45, 7.5, 6, '2019-12-20', '2026-08-17')
bg.text(253, 2152, '股息率与国债收益率', fontsize=10.5, color=DGRAY, va='center', ha='center')
bg.text(24, 2172, '%', fontsize=8, color=GRAY, va='center', ha='center')
leg_line(66, 90, 2394, BLUE, 3.0, '中证500')
leg_line(151, 177, 2394, BLACK, 3.0, '上证50')
leg_line(230, 255, 2394, ORANGE, 3.0, '10年期国债收益率')
leg_line(372, 397, 2394, RED, 3.0, '沪深300')

# ---------------------------------------------------------------- chart 12
ax = new_ax(585, 2186, 1042, 2353)
d = pd.date_range('2019-04-05', '2026-07-28', periods=len(C12_ERP))
draw(ax, d, C12_ERP, RED, 2.6)
spine(ax, 'bottom', '#BFBFBF', 1.2)
yaxis(ax, C12_YTICKS, [fmt_g(v) for v in C12_YTICKS], 8, lim=(0, 5))
xaxis(ax, C12_XTICKS, 45, 8, 4, '2017-04-05', '2026-08-10', length=3)
bg.text(796, 2160, '万得全A股权风险溢价', fontsize=11, color=DGRAY, va='center', ha='center')
bg.text(564, 2168, '%', fontsize=8, color=GRAY, va='center', ha='center')

fig.savefig('out.png', dpi=100)
